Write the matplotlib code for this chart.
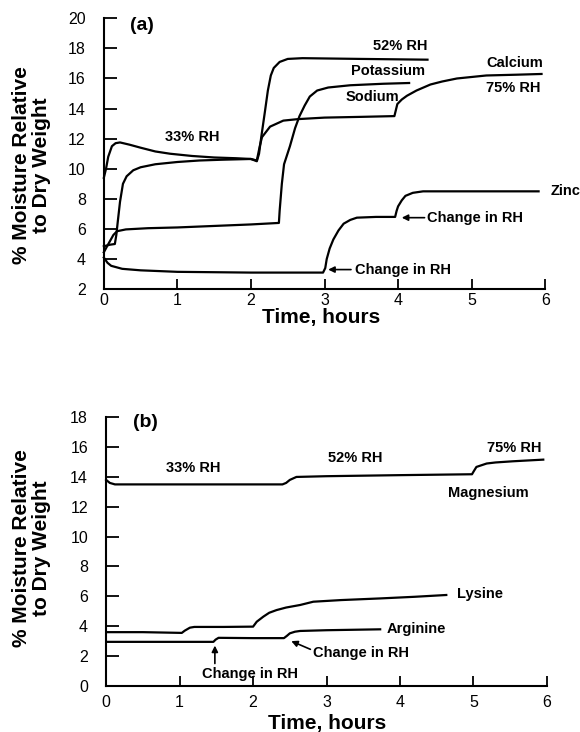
import matplotlib
matplotlib.use("Agg")
import matplotlib.pyplot as plt

plt.rcParams['font.family'] = ['Liberation Sans', 'DejaVu Sans']

# ---- panel (a): salts (time h, % moisture) ----
top_t = [0.0, 0.03, 0.06, 0.11, 0.16, 0.22, 0.35, 0.5, 0.7, 0.9, 1.2, 1.5, 1.8,
         2.0, 2.08, 2.11, 2.14, 2.19, 2.23, 2.27, 2.31, 2.39, 2.5, 2.7, 3.5, 4.4]
top_v = [9.4, 10.0, 10.8, 11.5, 11.7, 11.75, 11.6, 11.4, 11.15, 11.0, 10.85, 10.75, 10.7,
         10.65, 10.5, 11.0, 12.1, 13.8, 15.2, 16.2, 16.7, 17.1, 17.3, 17.35, 17.3, 17.25]

calcium_t = [0.0, 0.08, 0.15, 0.17, 0.19, 0.22, 0.26, 0.31, 0.4, 0.5, 0.7, 1.0, 1.3, 1.6,
             2.0, 2.08, 2.12, 2.15, 2.26, 2.44, 2.64, 3.0, 3.5, 3.95, 3.99, 4.05, 4.12,
             4.25, 4.44, 4.6, 4.8, 5.0, 5.2, 5.6, 5.95]
calcium_v = [4.85, 4.95, 5.0, 5.6, 6.5, 7.8, 9.0, 9.5, 9.9, 10.1, 10.3, 10.45, 10.55, 10.6,
             10.65, 10.55, 11.5, 12.1, 12.8, 13.2, 13.3, 13.4, 13.45, 13.5, 14.3, 14.6, 14.85,
             15.2, 15.6, 15.8, 16.0, 16.1, 16.2, 16.25, 16.3]

sodium_t = [0.0, 0.05, 0.13, 0.18, 0.3, 0.6, 1.0, 1.5, 2.0, 2.38, 2.39, 2.42, 2.45, 2.53,
            2.6, 2.66, 2.73, 2.8, 2.9, 3.05, 3.35, 3.8, 4.15]
sodium_v = [4.45, 4.9, 5.6, 5.85, 5.97, 6.05, 6.1, 6.2, 6.3, 6.4, 7.2, 9.0, 10.3, 11.5,
            12.7, 13.5, 14.2, 14.8, 15.2, 15.4, 15.55, 15.65, 15.7]

zinc_t = [0.0, 0.05, 0.1, 0.25, 0.5, 1.0, 2.0, 2.98, 3.01, 3.03, 3.07, 3.12, 3.19, 3.26,
          3.35, 3.44, 3.7, 3.96, 3.98, 4.0, 4.05, 4.1, 4.2, 4.34, 4.6, 5.91]
zinc_v = [4.1, 3.75, 3.55, 3.35, 3.25, 3.15, 3.1, 3.1, 3.4, 4.0, 4.7, 5.3, 5.9, 6.35,
          6.6, 6.75, 6.8, 6.8, 7.2, 7.5, 7.9, 8.2, 8.4, 8.5, 8.5, 8.5]

# ---- panel (b): magnesium and amino acids ----
mg_t = [0.0, 0.05, 0.12, 1.0, 2.0, 2.4, 2.45, 2.5, 2.59, 3.0, 4.0, 4.98, 5.0, 5.04,
        5.18, 5.3, 5.54, 5.95]
mg_v = [13.8, 13.6, 13.5, 13.5, 13.5, 13.5, 13.6, 13.8, 14.0, 14.05, 14.12, 14.18, 14.35,
        14.67, 14.9, 14.97, 15.05, 15.16]

lys_t = [0.0, 0.5, 1.03, 1.07, 1.14, 1.2, 1.6, 2.0, 2.05, 2.14, 2.22, 2.32, 2.45, 2.64,
         2.82, 3.2, 3.73, 4.2, 4.63]
lys_v = [3.6, 3.6, 3.55, 3.7, 3.9, 3.95, 3.95, 3.97, 4.3, 4.64, 4.9, 5.08, 5.25, 5.42,
         5.64, 5.75, 5.86, 5.97, 6.09]

arg_t = [0.0, 1.46, 1.49, 1.53, 2.0, 2.42, 2.46, 2.5, 2.57, 2.64, 3.0, 3.73]
arg_v = [2.95, 2.95, 3.1, 3.22, 3.2, 3.2, 3.35, 3.52, 3.63, 3.68, 3.73, 3.79]

xticks = [0, 1, 2, 3, 4, 5, 6]
yticks_a = [2, 4, 6, 8, 10, 12, 14, 16, 18, 20]
yticks_b = [0, 2, 4, 6, 8, 10, 12, 14, 16, 18]

fig = plt.figure(figsize=(5.8, 7.32), dpi=100)
ax1 = fig.add_axes([0.179, 0.605, 0.761, 0.370])
ax2 = fig.add_axes([0.183, 0.063, 0.760, 0.367])

lw = 1.6
lab = dict(fontsize=10.5, fontweight='bold')


def style(ax, yticks, xpad):
    for s in ['top', 'right']:
        ax.spines[s].set_visible(False)
    for s in ['left', 'bottom']:
        ax.spines[s].set_linewidth(1.5)
    ax.set_xlim(0, 6)
    ax.set_xticks(xticks)
    ax.set_yticks(yticks)
    ax.set_ylim(yticks[0], yticks[-1])
    ax.tick_params(axis='x', direction='in', length=7, width=1.3, pad=xpad, labelsize=11.5)
    ax.tick_params(axis='y', direction='in', length=9, width=1.3, pad=13, labelsize=11.5)


style(ax1, yticks_a, 2.5)
style(ax2, yticks_b, 6.5)

for t, v in [(top_t, top_v), (calcium_t, calcium_v), (sodium_t, sodium_v), (zinc_t, zinc_v)]:
    ax1.plot(t, v, color='black', lw=lw, clip_on=False)

ax1.text(0.52, 19.55, '(a)', ha='center', va='center', fontsize=14, fontweight='bold')
ax1.text(1.2, 12.1, '33% RH', ha='center', va='center', **lab)
ax1.text(4.03, 18.15, '52% RH', ha='center', va='center', **lab)
ax1.text(3.86, 16.5, 'Potassium', ha='center', va='center', **lab)
ax1.text(3.65, 14.8, 'Sodium', ha='center', va='center', **lab)
ax1.text(5.59, 17.0, 'Calcium', ha='center', va='center', **lab)
ax1.text(5.56, 15.4, '75% RH', ha='center', va='center', **lab)
ax1.text(6.07, 8.5, 'Zinc', ha='left', va='center', **lab)

arrow = dict(arrowstyle='-|>', color='black', lw=1.2, mutation_scale=9, shrinkA=0, shrinkB=0)
ax1.annotate('', xy=(3.05, 3.3), xytext=(3.36, 3.3), arrowprops=arrow)
ax1.text(3.41, 3.3, 'Change in RH', ha='left', va='center', **lab)
ax1.annotate('', xy=(4.05, 6.75), xytext=(4.36, 6.75), arrowprops=arrow)
ax1.text(4.40, 6.75, 'Change in RH', ha='left', va='center', **lab)

for t, v in [(mg_t, mg_v), (lys_t, lys_v), (arg_t, arg_v)]:
    ax2.plot(t, v, color='black', lw=lw, clip_on=False)

ax2.text(0.53, 17.66, '(b)', ha='center', va='center', fontsize=14, fontweight='bold')
ax2.text(1.18, 14.58, '33% RH', ha='center', va='center', **lab)
ax2.text(3.39, 15.25, '52% RH', ha='center', va='center', **lab)
ax2.text(5.56, 15.92, '75% RH', ha='center', va='center', **lab)
ax2.text(5.2, 12.9, 'Magnesium', ha='center', va='center', **lab)
ax2.text(4.77, 6.15, 'Lysine', ha='left', va='center', **lab)
ax2.text(3.82, 3.8, 'Arginine', ha='left', va='center', **lab)

ax2.annotate('', xy=(1.48, 2.7), xytext=(1.48, 1.5), arrowprops=arrow)
ax2.text(1.96, 0.8, 'Change in RH', ha='center', va='center', **lab)
ax2.annotate('', xy=(2.52, 3.0), xytext=(2.78, 2.45), arrowprops=arrow)
ax2.text(2.82, 2.2, 'Change in RH', ha='left', va='center', **lab)

ylab = '% Moisture Relative\nto Dry Weight'
fig.text(0.054, 0.775, ylab, rotation=90, ha='center', va='center', fontsize=15,
         fontweight='bold', linespacing=1.08)
fig.text(0.054, 0.251, ylab, rotation=90, ha='center', va='center', fontsize=15,
         fontweight='bold', linespacing=1.08)
fig.text(321 / 580, 1 - 318 / 732, 'Time, hours', ha='center', va='center', fontsize=15,
         fontweight='bold')
fig.text(327 / 580, 1 - 723 / 732, 'Time, hours', ha='center', va='center', fontsize=15,
         fontweight='bold')

fig.savefig('out.png', dpi=100)
